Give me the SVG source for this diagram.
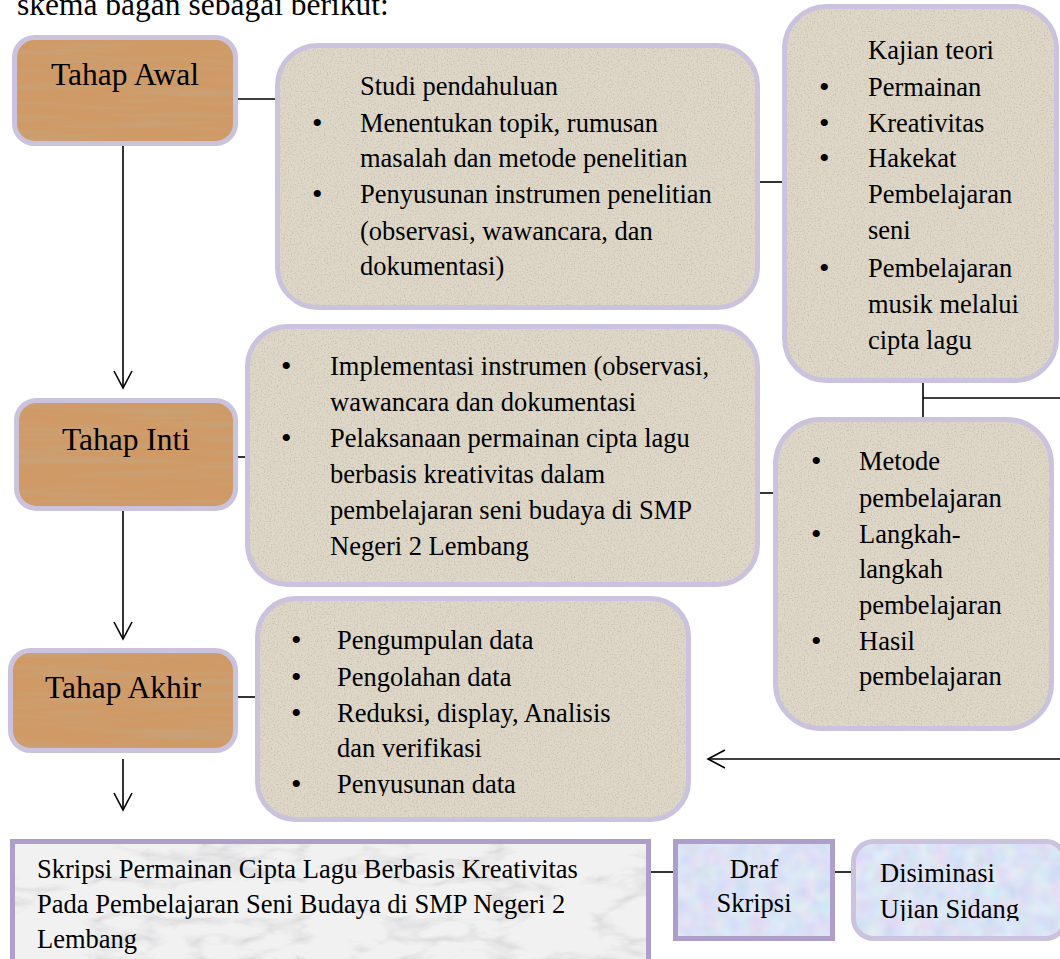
<svg xmlns="http://www.w3.org/2000/svg" width="1060" height="959" viewBox="0 0 1060 959">
<style>
 .t{font-family:"Liberation Serif","Times New Roman",serif;font-size:26.5px;fill:#000}
 .b{font-family:"Liberation Serif","Times New Roman",serif;font-size:30px;fill:#000}
 .h{font-family:"Liberation Serif","Times New Roman",serif;font-size:31.5px;fill:#000}
 .lav{stroke:#cbc3dd;stroke-width:5}
 .dk{stroke:#ae9fca;stroke-width:5}
 .ln{stroke:#000;stroke-width:1.6;fill:none}
</style>
<defs>
 <filter id="stone" x="0" y="0" width="100%" height="100%">
  <feTurbulence type="fractalNoise" baseFrequency="0.7" numOctaves="2" seed="4" result="n"/>
  <feColorMatrix in="n" type="matrix" values="0 0 0 0 0.45  0 0 0 0 0.42  0 0 0 0 0.36  1.6 0 0 0 -0.75" result="s"/>
  <feComposite in="s" in2="SourceGraphic" operator="in" result="s2"/>
  <feMerge><feMergeNode in="SourceGraphic"/><feMergeNode in="s2"/></feMerge>
 </filter>
 <filter id="wood" x="0" y="0" width="100%" height="100%">
  <feTurbulence type="fractalNoise" baseFrequency="0.008 0.14" numOctaves="3" seed="7" result="n"/>
  <feColorMatrix in="n" type="matrix" values="0 0 0 0 0.58  0 0 0 0 0.36  0 0 0 0 0.18  3 0 0 0 -1.35" result="s"/>
  <feComposite in="s" in2="SourceGraphic" operator="in" result="s2"/>
  <feMerge><feMergeNode in="SourceGraphic"/><feMergeNode in="s2"/></feMerge>
 </filter>
 <filter id="marble" x="0" y="0" width="100%" height="100%">
  <feTurbulence type="turbulence" baseFrequency="0.01 0.025" numOctaves="4" seed="2" result="n"/>
  <feColorMatrix in="n" type="matrix" values="0 0 0 0 0.55  0 0 0 0 0.55  0 0 0 0 0.57  -2.2 0 0 0 0.55" result="s"/>
  <feComposite in="s" in2="SourceGraphic" operator="in" result="s2"/>
  <feMerge><feMergeNode in="SourceGraphic"/><feMergeNode in="s2"/></feMerge>
 </filter>
 <filter id="pastel" x="0" y="0" width="100%" height="100%">
  <feTurbulence type="fractalNoise" baseFrequency="0.06" numOctaves="2" seed="9" result="n"/>
  <feColorMatrix in="n" type="matrix" values="0.6 0 0 0 0.55  0 0.5 0 0 0.6  0 0 0.3 0 0.8  0 0 0 0 0.5" result="s"/>
  <feComposite in="s" in2="SourceGraphic" operator="in" result="s2"/>
  <feMerge><feMergeNode in="SourceGraphic"/><feMergeNode in="s2"/></feMerge>
 </filter>
 <clipPath id="clipAkhir"><rect x="250" y="590" width="450" height="206"/></clipPath>
 <clipPath id="clipDis"><rect x="850" y="836" width="210" height="85"/></clipPath>
 <marker id="open" viewBox="0 0 20 20" refX="18" refY="10" markerWidth="20" markerHeight="20" markerUnits="userSpaceOnUse" orient="auto">
  <path d="M1,1 L18,10 L1,19" fill="none" stroke="#000" stroke-width="1.6"/>
 </marker>
</defs>

<text class="h" x="17" y="15">skema bagan sebagai berikut:</text>

<g id="connectors">
 <line class="ln" x1="123" y1="145" x2="123" y2="388" marker-end="url(#open)"/>
 <line class="ln" x1="123" y1="510" x2="123" y2="639" marker-end="url(#open)"/>
 <line class="ln" x1="123" y1="759" x2="123" y2="810" marker-end="url(#open)"/>
 <line class="ln" x1="238" y1="99" x2="276" y2="99"/>
 <line class="ln" x1="237" y1="457" x2="246" y2="457"/>
 <line class="ln" x1="237" y1="697" x2="256" y2="697"/>
 <line class="ln" x1="759" y1="182" x2="783" y2="182"/>
 <line class="ln" x1="757" y1="493" x2="774" y2="493"/>
 <line class="ln" x1="923" y1="382" x2="923" y2="417"/>
 <line class="ln" x1="923" y1="398" x2="1060" y2="398"/>
 <line class="ln" x1="1060" y1="759" x2="708" y2="759" marker-end="url(#open)"/>
 <line class="ln" x1="650" y1="872" x2="674" y2="872"/>
 <line class="ln" x1="834" y1="872" x2="852" y2="872"/>
</g>

<g id="tahap-awal">
 <rect x="14.5" y="37.5" width="221" height="106" rx="20" fill="#d09a66" filter="url(#wood)"/>
 <rect x="14.5" y="37.5" width="221" height="106" rx="20" fill="none" class="lav"/>
 <text class="h" x="125" y="85" text-anchor="middle">Tahap Awal</text>
</g>

<g id="studi">
 <rect x="277.5" y="45.5" width="480" height="262" rx="40" fill="#dfd8c8" filter="url(#stone)"/>
 <rect x="277.5" y="45.5" width="480" height="262" rx="40" fill="none" class="lav"/>
 <text class="t" x="360" y="95">Studi pendahuluan</text>
 <text class="b" x="312" y="133">•</text>
 <text class="t" x="360" y="132">Menentukan topik, rumusan</text>
 <text class="t" x="360" y="167">masalah dan metode penelitian</text>
 <text class="b" x="312" y="204">•</text>
 <text class="t" x="360" y="203">Penyusunan instrumen penelitian</text>
 <text class="t" x="360" y="240">(observasi, wawancara, dan</text>
 <text class="t" x="360" y="275">dokumentasi)</text>
</g>

<g id="kajian">
 <rect x="784.5" y="6.5" width="272" height="374" rx="42" fill="#dfd8c8" filter="url(#stone)"/>
 <rect x="784.5" y="6.5" width="272" height="374" rx="42" fill="none" class="lav"/>
 <text class="t" x="868" y="59">Kajian teori</text>
 <text class="b" x="819" y="97">•</text>
 <text class="t" x="868" y="96">Permainan</text>
 <text class="b" x="819" y="133">•</text>
 <text class="t" x="868" y="132">Kreativitas</text>
 <text class="b" x="819" y="168">•</text>
 <text class="t" x="868" y="167">Hakekat</text>
 <text class="t" x="868" y="203">Pembelajaran</text>
 <text class="t" x="868" y="239">seni</text>
 <text class="b" x="819" y="278">•</text>
 <text class="t" x="868" y="277">Pembelajaran</text>
 <text class="t" x="868" y="313">musik melalui</text>
 <text class="t" x="868" y="349">cipta lagu</text>
</g>

<g id="tahap-inti">
 <rect x="16.5" y="400.5" width="219" height="108" rx="20" fill="#d09a66" filter="url(#wood)"/>
 <rect x="16.5" y="400.5" width="219" height="108" rx="20" fill="none" class="lav"/>
 <text class="h" x="126" y="450" text-anchor="middle">Tahap Inti</text>
</g>

<g id="inti-isi">
 <rect x="247.5" y="326.5" width="510" height="258" rx="40" fill="#dfd8c8" filter="url(#stone)"/>
 <rect x="247.5" y="326.5" width="510" height="258" rx="40" fill="none" class="lav"/>
 <text class="b" x="281" y="376">•</text>
 <text class="t" x="330" y="375">Implementasi instrumen (observasi,</text>
 <text class="t" x="330" y="411">wawancara dan dokumentasi</text>
 <text class="b" x="281" y="448">•</text>
 <text class="t" x="330" y="447">Pelaksanaan permainan cipta lagu</text>
 <text class="t" x="330" y="483">berbasis kreativitas dalam</text>
 <text class="t" x="330" y="519">pembelajaran seni budaya di SMP</text>
 <text class="t" x="330" y="555">Negeri 2 Lembang</text>
</g>

<g id="metode">
 <rect x="775.5" y="419.5" width="276" height="309" rx="45" fill="#dfd8c8" filter="url(#stone)"/>
 <rect x="775.5" y="419.5" width="276" height="309" rx="45" fill="none" class="lav"/>
 <text class="b" x="811" y="471">•</text>
 <text class="t" x="859" y="470">Metode</text>
 <text class="t" x="859" y="507">pembelajaran</text>
 <text class="b" x="811" y="544">•</text>
 <text class="t" x="859" y="543">Langkah-</text>
 <text class="t" x="859" y="578">langkah</text>
 <text class="t" x="859" y="614">pembelajaran</text>
 <text class="b" x="811" y="651">•</text>
 <text class="t" x="859" y="650">Hasil</text>
 <text class="t" x="859" y="685">pembelajaran</text>
</g>

<g id="tahap-akhir">
 <rect x="10.5" y="650.5" width="225" height="100" rx="20" fill="#d09a66" filter="url(#wood)"/>
 <rect x="10.5" y="650.5" width="225" height="100" rx="20" fill="none" class="lav"/>
 <text class="h" x="123" y="698" text-anchor="middle">Tahap Akhir</text>
</g>

<g id="akhir-isi">
 <rect x="257.5" y="598.5" width="431" height="221" rx="38" fill="#dfd8c8" filter="url(#stone)"/>
 <rect x="257.5" y="598.5" width="431" height="221" rx="38" fill="none" class="lav"/>
 <g clip-path="url(#clipAkhir)">
  <text class="b" x="291" y="650">•</text>
  <text class="t" x="337" y="649">Pengumpulan data</text>
  <text class="b" x="291" y="687">•</text>
  <text class="t" x="337" y="686">Pengolahan data</text>
  <text class="b" x="291" y="723">•</text>
  <text class="t" x="337" y="722">Reduksi, display, Analisis</text>
  <text class="t" x="337" y="757">dan verifikasi</text>
  <text class="b" x="291" y="794">•</text>
  <text class="t" x="337" y="793">Penyusunan data</text>
 </g>
</g>

<g id="skripsi">
 <rect x="12.5" y="841.5" width="636" height="130" fill="#f1f1f2" filter="url(#marble)"/>
 <rect x="12.5" y="841.5" width="636" height="130" fill="none" class="dk"/>
 <text class="t" x="37" y="878">Skripsi Permainan Cipta Lagu Berbasis Kreativitas</text>
 <text class="t" x="37" y="913">Pada Pembelajaran Seni Budaya di SMP Negeri 2</text>
 <text class="t" x="37" y="948">Lembang</text>
</g>

<g id="draf">
 <rect x="675.5" y="841.5" width="157" height="97" fill="#c8d8f0" filter="url(#pastel)"/>
 <rect x="675.5" y="841.5" width="157" height="97" fill="none" class="dk"/>
 <text class="t" x="754" y="878" text-anchor="middle">Draf</text>
 <text class="t" x="754" y="912" text-anchor="middle">Skripsi</text>
</g>

<g id="disiminasi">
 <rect x="853.5" y="841.5" width="212" height="97" rx="20" fill="#c8d8f0" filter="url(#pastel)"/>
 <rect x="853.5" y="841.5" width="212" height="97" rx="20" fill="none" class="lav"/>
 <g clip-path="url(#clipDis)">
  <text class="t" x="880" y="882">Disiminasi</text>
  <text class="t" x="880" y="918">Ujian Sidang</text>
 </g>
</g>
</svg>
